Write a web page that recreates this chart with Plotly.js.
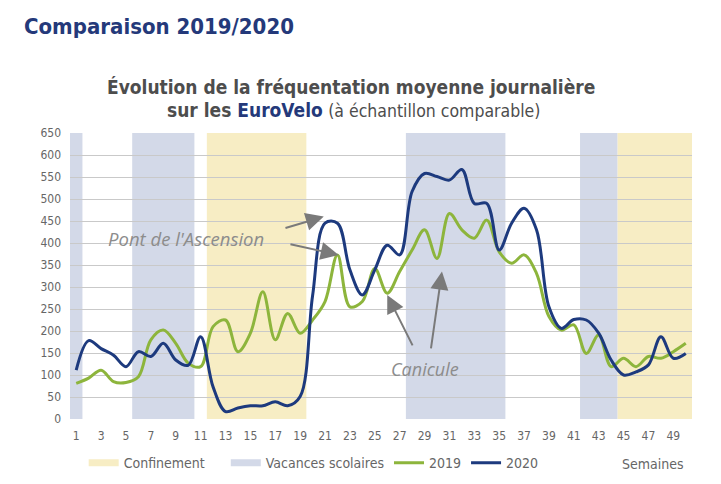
<!DOCTYPE html>
<html>
<head>
<meta charset="utf-8">
<script src="https://cdn.plot.ly/plotly-3.0.1.min.js"></script>
<style>html,body{margin:0;padding:0;background:#fff;}#chart{width:721px;height:484px;}</style>
</head>
<body>
<div id="chart"></div>
<script>
// ---- Data ----
const weeks = [1,2,3,4,5,6,7,8,9,10,11,12,13,14,15,16,17,18,19,20,21,22,23,24,25,26,27,28,29,30,31,32,33,34,35,36,37,38,39,40,41,42,43,44,45,46,47,48,49,50];
const values2019 = [81,93,111,85,83,96,180,202,172,127,119,210,225,153,195,289,180,240,195,225,267,373,255,267,342,286,335,384,430,365,467,430,411,452,380,354,373,331,233,202,214,149,191,119,138,119,142,138,153,172];
const values2020 = [111,178,160,145,119,153,142,172,134,122,187,73,17,25,30,30,39,30,51,280,445,445,339,282,339,395,373,517,558,551,543,567,490,490,384,445,479,430,255,206,226,225,195,134,100,107,123,187,138,149];
const confinementStart = [12, 45];
const confinementEnd = [19, 50];
const vacancesStart = [1, 6, 28, 42];
const vacancesEnd = [1, 10, 35, 44];
const xTickVals = [1,3,5,7,9,11,13,15,17,19,21,23,25,27,29,31,33,35,37,39,41,43,45,47,49];
const yTickVals = [0,50,100,150,200,250,300,350,400,450,500,550,600,650];

// ---- Styles ----
const cConf = '#f7edc4';
const cVac = '#d3d9e8';
const c2019 = '#8db53c';
const c2020 = '#1d3a7e';
const grey = '#666666';
const font = "'DejaVu Sans Condensed', 'Liberation Sans', sans-serif";
const italicFont = "'Open Sans', Lato, sans-serif";

const shapes = [];
confinementStart.forEach((s, i) => shapes.push({type:'rect', xref:'x', yref:'y', x0:s-0.5, x1:confinementEnd[i]+0.5, y0:0, y1:650, fillcolor:cConf, line:{width:0}, layer:'below'}));
vacancesStart.forEach((s, i) => shapes.push({type:'rect', xref:'x', yref:'y', x0:s-0.5, x1:vacancesEnd[i]+0.5, y0:0, y1:650, fillcolor:cVac, line:{width:0}, layer:'below'}));

const traces = [
  {x:[null], y:[null], mode:'lines', name:'Confinement\u00a0\u00a0\u00a0\u00a0', line:{color:cConf, width:7}, hoverinfo:'skip'},
  {x:[null], y:[null], mode:'lines', name:'Vacances scolaires', line:{color:cVac, width:7}, hoverinfo:'skip'},
  {x:weeks, y:values2019, mode:'lines', name:'2019', line:{color:c2019, width:3, shape:'spline', smoothing:1}},
  {x:weeks, y:values2020, mode:'lines', name:'2020', line:{color:c2020, width:3, shape:'spline', smoothing:1}}
];

const arrow = {xref:'x', yref:'y', axref:'x', ayref:'y', showarrow:true, arrowhead:2, arrowsize:1.8, arrowwidth:2, arrowcolor:'#7a7a7a', text:''};

const layout = {
  width:721, height:484,
  margin:{l:70, r:29, t:133, b:65},
  paper_bgcolor:'#ffffff', plot_bgcolor:'rgba(0,0,0,0)',
  font:{family:font, color:grey, size:12},
  showlegend:true,
  legend:{orientation:'h', xref:'paper', x:0.022, xanchor:'left', yref:'container', y:0.043, yanchor:'middle', font:{size:14, color:grey}, itemwidth:30, tracegroupgap:0, traceorder:'normal', bgcolor:'rgba(0,0,0,0)'},
  xaxis:{range:[0.5,50.5], tickvals:xTickVals, ticktext:xTickVals.map(String), showgrid:false, zeroline:false, showline:false, ticks:'', ticklabelstandoff:8, tickfont:{size:12, color:grey}, fixedrange:true, automargin:false},
  yaxis:{range:[0,650], tickvals:yTickVals, showgrid:true, gridcolor:'#c9c9c9', gridwidth:1, zeroline:false, showline:false, ticks:'', ticklabelstandoff:8, tickfont:{size:12, color:grey}, fixedrange:true, automargin:false},
  shapes:shapes,
  annotations:[
    {xref:'paper', yref:'paper', x:-0.077, y:1.371, xanchor:'left', yanchor:'middle', showarrow:false, text:'<b>Comparaison 2019/2020</b>', font:{family:font, size:22, color:'#24397a'}},
    {xref:'paper', yref:'paper', x:0.452, y:1.161, xanchor:'center', yanchor:'middle', showarrow:false, text:'<b>Évolution de la fréquentation moyenne journalière</b>', font:{family:font, size:19, color:'#4d4d4d'}},
    {xref:'paper', yref:'paper', x:0.455, y:1.080, xanchor:'center', yanchor:'middle', showarrow:false, text:'<b>sur les </b><b><span style="color:#24397a">EuroVelo</span></b> <span style="font-size:17.5px">(à échantillon comparable)</span>', font:{family:font, size:19, color:'#4d4d4d'}},
    {xref:'x', yref:'y', x:9.84, y:411, showarrow:false, text:'<i>Pont de l\'Ascension</i>', font:{family:italicFont, size:18.5, color:'#8c8c8c'}},
    {xref:'x', yref:'y', x:29.05, y:114, showarrow:false, text:'<i>Canicule</i>', font:{family:italicFont, size:18, color:'#8c8c8c'}},
    Object.assign({}, arrow, {x:20.9, y:460, ax:17.7, ay:433}),
    Object.assign({}, arrow, {x:22.1, y:373, ax:18.1, ay:398}),
    Object.assign({}, arrow, {x:26.0, y:282, ax:28.1, ay:164}),
    Object.assign({}, arrow, {x:30.4, y:335, ax:29.5, ay:157}),
    {xref:'paper', yref:'paper', x:0.990, y:-0.157, xanchor:'right', yanchor:'middle', showarrow:false, text:'Semaines', font:{family:font, size:14, color:grey}}
  ]
};

Plotly.newPlot('chart', traces, layout, {displayModeBar:false, staticPlot:true});
</script>
</body>
</html>
